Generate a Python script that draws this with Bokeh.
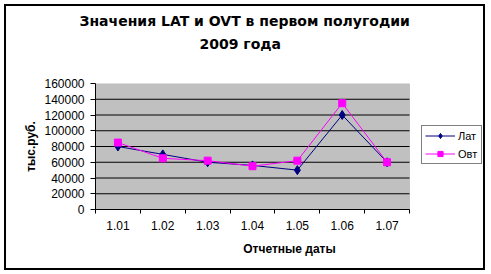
from bokeh.plotting import figure
from bokeh.layouts import column
from bokeh.models import (BoxAnnotation, FixedTicker, Legend, LegendItem, NumeralTickFormatter,
                          Range1d, Title)
from bokeh.embed import file_html
from bokeh.resources import INLINE

categories = ["1.01", "1.02", "1.03", "1.04", "1.05", "1.06", "1.07"]
lat = [80000, 70000, 60000, 56000, 50000, 120000, 60000]
ovt = [85000, 65000, 62000, 55000, 62000, 135000, 60000]
y_ticks = [0, 20000, 40000, 60000, 80000, 100000, 120000, 140000, 160000]
title_lines = ["Значения LAT и OVT в первом полугодии", "2009 года"]

n = len(categories)
xs = list(range(1, n + 1))
FONT = "Liberation Sans"
TFONT = "DejaVu Sans"

W, H = 477, 262
LEFT, TOP, BOTTOM = 89, 76, 59
PLOT_W = 314                     # width of the grey plot area in px
FRAME_W = W - LEFT               # frame extends to the right edge (room for legend)
x_end = 0.5 + n * FRAME_W / PLOT_W

p = figure(width=W, height=H, output_backend="svg", toolbar_location=None,
           x_range=Range1d(0.5, x_end), y_range=Range1d(0, y_ticks[-1]),
           min_border_left=LEFT, min_border_right=0, min_border_top=TOP, min_border_bottom=BOTTOM)
p.background_fill_color = "white"
p.border_fill_color = "white"
p.outline_line_color = None

# plot area
area = BoxAnnotation(left=0.5, right=n + 0.5, fill_color="#C0C0C0", fill_alpha=1,
                     line_color="#808080", line_width=1, level="image")
p.add_layout(area)
p.xgrid.visible = False
p.ygrid.visible = False
gy = y_ticks[:-1]
p.segment(x0=[0.5] * len(gy), x1=[n + 0.5] * len(gy), y0=gy, y1=gy,
          line_color="black", line_width=1, level="underlay")

# titles
p.title.text = title_lines[0]
spacer = Title(text=" ", standoff=14, text_font_size="13px")
t2 = Title(text=title_lines[1])
p.add_layout(spacer, "above")
p.add_layout(t2, "above")
for t in (p.title, t2):
    t.align = "left"
    t.text_font = TFONT
    t.text_font_size = "14px"
    t.text_font_style = "bold"
    t.text_color = "black"
p.title.standoff = 8
p.title.offset = -16
t2.standoff = 2
t2.offset = 104

# x axis
p.xaxis.ticker = FixedTicker(ticks=xs, minor_ticks=[x - 0.5 for x in xs] + [xs[-1] + 0.5])
p.xaxis.major_label_overrides = {x: c for x, c in zip(xs, categories)}
p.xaxis.bounds = (0.5, n + 0.5)
p.xaxis.major_tick_line_color = None
p.xaxis.minor_tick_out = 4
p.xaxis.minor_tick_in = 0
p.xaxis.minor_tick_line_color = "black"
p.xaxis.axis_line_color = "black"
p.xaxis.major_label_standoff = 5
p.xaxis.axis_label = "Отчетные даты"
p.xaxis.axis_label_standoff = 9

# y axis
p.yaxis.ticker = FixedTicker(ticks=y_ticks)
p.yaxis.formatter = NumeralTickFormatter(format="0")
p.yaxis.major_tick_out = 5
p.yaxis.major_tick_in = 0
p.yaxis.minor_tick_line_color = None
p.yaxis.axis_line_color = "black"
p.yaxis.major_label_standoff = 6
p.yaxis.axis_label = "тыс.руб."
p.yaxis.axis_label_standoff = 3

for ax in (p.xaxis, p.yaxis):
    ax.major_label_text_font = FONT
    ax.major_label_text_font_size = "12px"
    ax.major_label_text_color = "black"
    ax.axis_label_text_font = FONT
    ax.axis_label_text_font_size = "12px"
    ax.axis_label_text_font_style = "bold"
    ax.axis_label_text_color = "black"

l1 = p.line(xs, lat, line_color="#000080", line_width=1)
s1 = p.scatter(xs, lat, marker="diamond", size=9, fill_color="#000080", line_color="#000080")
l2 = p.line(xs, ovt, line_color="#FF00FF", line_width=1)
s2 = p.scatter(xs, ovt, marker="square", size=7, fill_color="#FF00FF", line_color="#FF00FF")

legend = Legend(items=[LegendItem(label="Лат", renderers=[l1, s1]),
                       LegendItem(label="Овт", renderers=[l2, s2])],
                location=(326, 45), margin=0, padding=3, spacing=5,
                glyph_width=30, glyph_height=13, label_standoff=3,
                border_line_color="black", border_line_width=1,
                background_fill_color="white", background_fill_alpha=1,
                label_text_font=FONT, label_text_font_size="11px", label_text_color="black")
p.add_layout(legend)

layout = column(p, margin=(4, 4, 4, 4), styles={"border": "2px solid black"})

open("out.html", "w").write(file_html(layout, INLINE))
